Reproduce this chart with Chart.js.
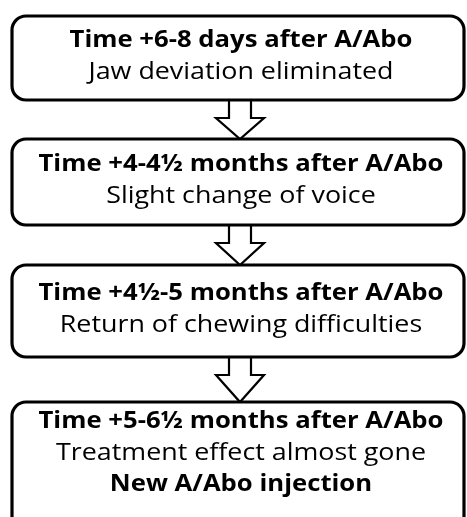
<!DOCTYPE html>
<html>
<head>
<meta charset="utf-8">
<script src="https://cdn.jsdelivr.net/npm/chart.js@4/dist/chart.umd.min.js"></script>
<style>
  html, body { margin: 0; padding: 0; background: #ffffff; }
  #wrap { width: 467px; height: 517px; }
</style>
</head>
<body>
<div id="wrap"><canvas id="c"></canvas></div>
<script>
// ---- data ----
const stepTitles = [
  "Time +6-8 days after A/Abo",
  "Time +4-4\u00BD months after A/Abo",
  "Time +4\u00BD-5 months after A/Abo",
  "Time +5-6\u00BD months after A/Abo"
];
const stepDetails = [
  ["Jaw deviation eliminated"],
  ["Slight change of voice"],
  ["Return of chewing difficulties"],
  ["Treatment effect almost gone"]
];
const stepActions = [
  [],
  [],
  [],
  ["New A/Abo injection"]
];

// ---- layout (in scale units, canvas is 467 x 517) ----
const boxTop    = [16, 139, 265, 402];
const boxBottom = [100, 225, 357, 530];
const boxLeft = 12, boxRight = 464, boxRadius = 14;
const textCenterX = 241;
const lineGap = 31.5;
const FONT = "'Open Sans', 'Lato', 'Liberation Sans', sans-serif";
const FONT_SIZE = 23;

const flowPlugin = {
  id: 'flow',
  afterDraw(chart) {
    const ctx = chart.ctx;
    const xs = chart.scales.x, ys = chart.scales.y;
    const X = v => xs.getPixelForValue(v);
    const Y = v => ys.getPixelForValue(v);
    ctx.save();
    // horizontal text scale so the face has a Calibri-like proportion
    ctx.font = 'bold ' + FONT_SIZE + 'px ' + FONT;
    const boldScale = 405 / ctx.measureText(stepTitles[1]).width;
    ctx.font = FONT_SIZE + 'px ' + FONT;
    const regScale = 305 / ctx.measureText(stepDetails[0][0]).width;

    // arrows
    for (let i = 0; i < stepTitles.length - 1; i++) {
      const cx = X(textCenterX - 1);
      const y0 = Y(boxBottom[i]);
      const yh = Y(boxBottom[i] + 18);
      const yt = Y(boxTop[i + 1]);
      const sw = 11, hw = 24;
      ctx.beginPath();
      ctx.moveTo(cx - sw, y0);
      ctx.lineTo(cx - sw, yh);
      ctx.lineTo(cx - hw, yh);
      ctx.lineTo(cx, yt);
      ctx.lineTo(cx + hw, yh);
      ctx.lineTo(cx + sw, yh);
      ctx.lineTo(cx + sw, y0);
      ctx.fillStyle = '#ffffff';
      ctx.fill();
      ctx.strokeStyle = '#000000';
      ctx.lineWidth = 2.2;
      ctx.lineJoin = 'miter';
      ctx.stroke();
    }
    // boxes
    for (let i = 0; i < stepTitles.length; i++) {
      const l = X(boxLeft), r = X(boxRight), t = Y(boxTop[i]), b = Y(boxBottom[i]);
      ctx.beginPath();
      ctx.roundRect(l, t, r - l, b - t, boxRadius);
      ctx.fillStyle = '#ffffff';
      ctx.fill();
      ctx.lineWidth = 3.2;
      ctx.strokeStyle = '#000000';
      ctx.stroke();

      const lines = [{ s: stepTitles[i], b: true }]
        .concat(stepDetails[i].map(s => ({ s, b: false })))
        .concat(stepActions[i].map(s => ({ s, b: true })));
      const n = lines.length;
      const cy = (t + Math.min(b, Y(507))) / 2;
      ctx.fillStyle = '#000000';
      ctx.textAlign = 'center';
      ctx.textBaseline = 'alphabetic';
      lines.forEach((ln, k) => {
        ctx.font = (ln.b ? 'bold ' : '') + FONT_SIZE + 'px ' + FONT;
        const y = cy - (n - 1) / 2 * lineGap + 5 + k * lineGap;
        const sx = ln.b ? boldScale : regScale;
        ctx.save();
        ctx.translate(X(textCenterX), y);
        ctx.scale(sx, 1);
        ctx.fillText(ln.s, 0, 0);
        ctx.restore();
      });
    }
    ctx.restore();
  }
};

new Chart(document.getElementById('c'), {
  type: 'scatter',
  data: { datasets: [{ data: [], pointRadius: 0 }] },
  options: {
    responsive: true,
    maintainAspectRatio: false,
    animation: false,
    layout: { padding: 0 },
    plugins: { legend: { display: false }, tooltip: { enabled: false } },
    scales: {
      x: { type: 'linear', min: 0, max: 467, display: false },
      y: { type: 'linear', min: 0, max: 517, reverse: true, display: false }
    }
  },
  plugins: [flowPlugin]
});
</script>
</body>
</html>
